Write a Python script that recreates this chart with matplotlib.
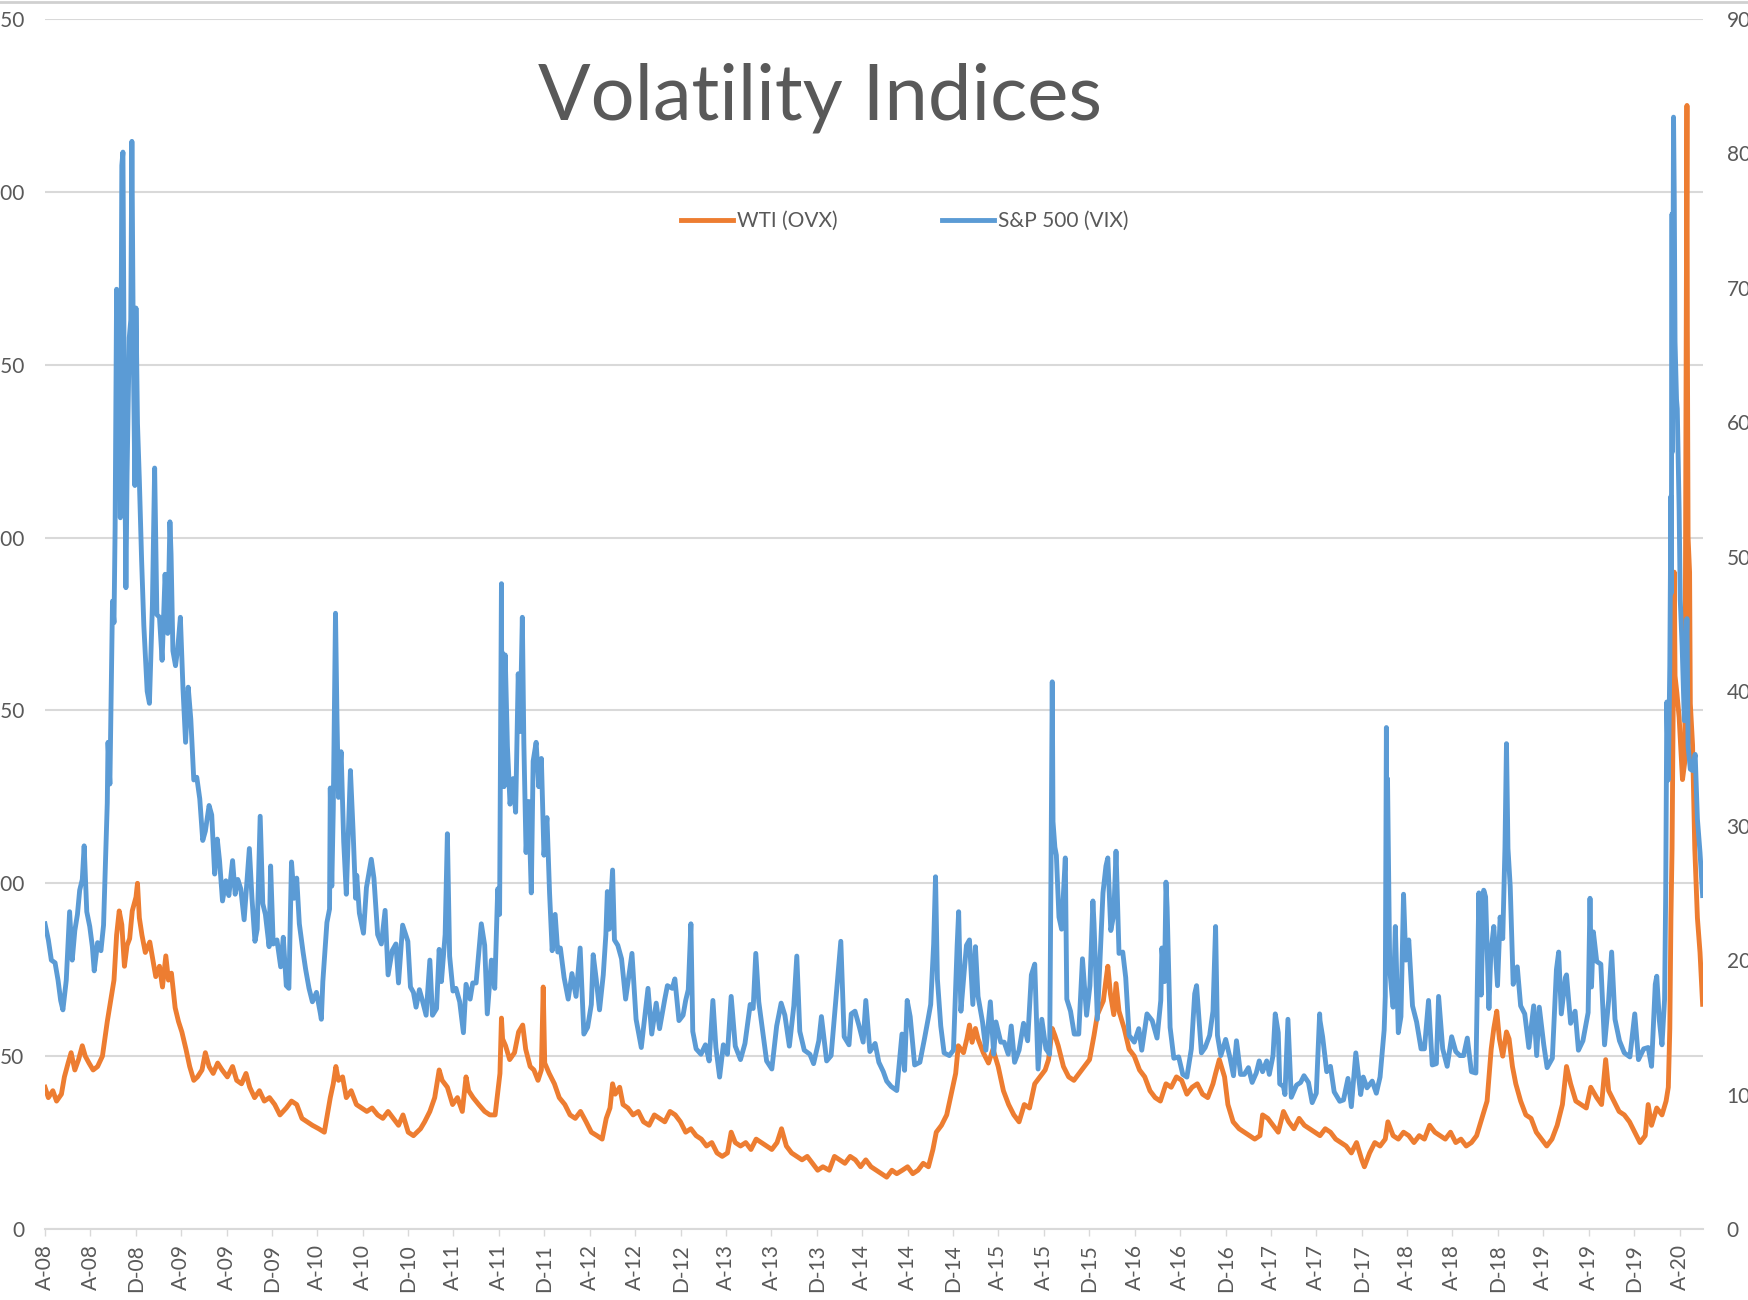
import matplotlib
matplotlib.use("Agg")
import matplotlib.pyplot as plt
from matplotlib.lines import Line2D
import pandas as pd

plt.rcParams['font.family'] = ['Lato', 'DejaVu Sans']

# ---------------- data ----------------
vix_dates = [
 "2008-04-01","2008-04-10","2008-04-18","2008-04-28","2008-05-06","2008-05-13","2008-05-19","2008-05-28",
 "2008-06-06","2008-06-13","2008-06-20","2008-06-27","2008-07-03","2008-07-10","2008-07-15","2008-07-22",
 "2008-07-30","2008-08-06","2008-08-11","2008-08-20","2008-08-29","2008-09-05","2008-09-15","2008-09-17",
 "2008-09-22","2008-09-29","2008-10-03","2008-10-06","2008-10-10","2008-10-14","2008-10-16","2008-10-20",
 "2008-10-24","2008-10-27","2008-10-31","2008-11-04","2008-11-07","2008-11-13","2008-11-17","2008-11-20",
 "2008-11-24","2008-11-28","2008-12-01","2008-12-05","2008-12-10","2008-12-16","2008-12-22","2008-12-31",
 "2009-01-06","2009-01-14","2009-01-20","2009-01-26","2009-02-02","2009-02-09","2009-02-17","2009-02-24",
 "2009-03-02","2009-03-05","2009-03-10","2009-03-17","2009-03-23","2009-03-30","2009-04-06","2009-04-13",
 "2009-04-20","2009-04-27","2009-05-05","2009-05-13","2009-05-21","2009-05-29","2009-06-05","2009-06-15",
 "2009-06-22","2009-06-30","2009-07-07","2009-07-13","2009-07-21","2009-07-30","2009-08-07","2009-08-17",
 "2009-08-24","2009-08-31","2009-09-08","2009-09-17","2009-09-24","2009-10-01","2009-10-08","2009-10-16",
 "2009-10-22","2009-10-30","2009-11-06","2009-11-13","2009-11-23","2009-11-27","2009-12-04","2009-12-14",
 "2009-12-24","2009-12-31","2010-01-08","2010-01-15","2010-01-22","2010-01-29","2010-02-05","2010-02-12",
 "2010-02-22","2010-03-01","2010-03-10","2010-03-19","2010-03-30","2010-04-09","2010-04-12","2010-04-16",
 "2010-04-27","2010-05-04","2010-05-06","2010-05-10","2010-05-14","2010-05-20","2010-05-24","2010-05-28",
 "2010-06-04","2010-06-11","2010-06-18","2010-06-29","2010-07-06","2010-07-13","2010-07-16","2010-07-23",
 "2010-08-03","2010-08-11","2010-08-24","2010-08-31","2010-09-10","2010-09-20","2010-09-30","2010-10-08",
 "2010-10-19","2010-10-29","2010-11-05","2010-11-16","2010-11-30","2010-12-07","2010-12-15","2010-12-22",
 "2010-12-31","2011-01-07","2011-01-18","2011-01-28","2011-02-04","2011-02-15","2011-02-22","2011-02-28",
 "2011-03-10","2011-03-16","2011-03-22","2011-03-31","2011-04-08","2011-04-18","2011-04-28","2011-05-05",
 "2011-05-16","2011-05-23","2011-06-01","2011-06-15","2011-06-24","2011-07-01","2011-07-12","2011-07-21",
 "2011-07-29","2011-08-03","2011-08-08","2011-08-09","2011-08-10","2011-08-15","2011-08-18","2011-08-24",
 "2011-08-31","2011-09-08","2011-09-15","2011-09-22","2011-09-27","2011-10-03","2011-10-07","2011-10-13",
 "2011-10-20","2011-10-27","2011-11-01","2011-11-09","2011-11-16","2011-11-23","2011-11-30","2011-12-08",
 "2011-12-15","2011-12-22","2011-12-30","2012-01-06","2012-01-13","2012-01-23","2012-02-03","2012-02-13",
 "2012-02-24","2012-03-06","2012-03-16","2012-03-26","2012-04-05","2012-04-10","2012-04-18","2012-04-27",
 "2012-05-07","2012-05-14","2012-05-18","2012-05-23","2012-06-01","2012-06-06","2012-06-15","2012-06-25",
 "2012-07-06","2012-07-12","2012-07-23","2012-08-03","2012-08-17","2012-08-24","2012-09-04","2012-09-14",
 "2012-09-26","2012-10-05","2012-10-19","2012-10-26","2012-11-08","2012-11-15","2012-11-26","2012-12-07",
 "2012-12-14","2012-12-21","2012-12-28","2013-01-02","2013-01-11","2013-01-24","2013-02-05","2013-02-15",
 "2013-02-25","2013-03-05","2013-03-15","2013-03-25","2013-04-05","2013-04-15","2013-04-26","2013-05-10",
 "2013-05-22","2013-06-05","2013-06-13","2013-06-20","2013-06-28","2013-07-08","2013-07-19","2013-08-02",
 "2013-08-15","2013-08-27","2013-09-06","2013-09-18","2013-09-30","2013-10-08","2013-10-16","2013-10-28",
 "2013-11-12","2013-11-22","2013-12-06","2013-12-13","2013-12-27","2014-01-08","2014-01-24","2014-02-03",
 "2014-02-12","2014-02-25","2014-03-03","2014-03-13","2014-03-24","2014-04-04","2014-04-11","2014-04-22",
 "2014-05-06","2014-05-16","2014-05-28","2014-06-06","2014-06-18","2014-07-03","2014-07-17","2014-07-24",
 "2014-07-31","2014-08-08","2014-08-20","2014-09-03","2014-09-15","2014-09-25","2014-10-02","2014-10-10",
 "2014-10-15","2014-10-20","2014-10-29","2014-11-07","2014-11-21","2014-12-02","2014-12-12","2014-12-16",
 "2014-12-22","2014-12-31","2015-01-06","2015-01-14","2015-01-23","2015-01-30","2015-02-06","2015-02-18",
 "2015-02-27","2015-03-11","2015-03-20","2015-03-26","2015-04-08","2015-04-17","2015-04-28","2015-05-06",
 "2015-05-15","2015-05-27","2015-06-08","2015-06-19","2015-06-29","2015-07-08","2015-07-17","2015-07-27",
 "2015-08-07","2015-08-17","2015-08-21","2015-08-24","2015-08-26","2015-08-31","2015-09-04","2015-09-11",
 "2015-09-18","2015-09-28","2015-10-02","2015-10-12","2015-10-22","2015-11-03","2015-11-13","2015-11-24",
 "2015-12-03","2015-12-11","2015-12-14","2015-12-23","2016-01-07","2016-01-15","2016-01-20","2016-01-28",
 "2016-02-05","2016-02-11","2016-02-19","2016-02-29","2016-03-08","2016-03-17","2016-03-31","2016-04-12",
 "2016-04-20","2016-05-04","2016-05-18","2016-05-31","2016-06-10","2016-06-13","2016-06-20","2016-06-24",
 "2016-06-27","2016-07-05","2016-07-15","2016-07-28","2016-08-08","2016-08-19","2016-08-31","2016-09-09",
 "2016-09-14","2016-09-27","2016-10-07","2016-10-19","2016-10-28","2016-11-04","2016-11-09","2016-11-18",
 "2016-12-01","2016-12-13","2016-12-22","2016-12-30","2017-01-10","2017-01-20","2017-01-31","2017-02-10",
 "2017-02-21","2017-03-01","2017-03-10","2017-03-21","2017-03-28","2017-04-07","2017-04-13","2017-04-21",
 "2017-04-25","2017-05-05","2017-05-09","2017-05-17","2017-05-26","2017-06-09","2017-06-20","2017-06-29",
 "2017-07-11","2017-07-21","2017-08-01","2017-08-10","2017-08-11","2017-08-18","2017-08-29","2017-09-08",
 "2017-09-18","2017-10-03","2017-10-13","2017-10-25","2017-11-03","2017-11-15","2017-11-28","2017-12-05",
 "2017-12-15","2017-12-29","2018-01-09","2018-01-19","2018-01-30","2018-02-02","2018-02-05","2018-02-06",
 "2018-02-08","2018-02-14","2018-02-23","2018-03-01","2018-03-09","2018-03-16","2018-03-23","2018-03-29",
 "2018-04-06","2018-04-16","2018-04-27","2018-05-09","2018-05-18","2018-05-29","2018-06-08","2018-06-19",
 "2018-06-25","2018-07-06","2018-07-18","2018-07-30","2018-08-10","2018-08-21","2018-08-31","2018-09-10",
 "2018-09-21","2018-10-03","2018-10-11","2018-10-17","2018-10-24","2018-10-29","2018-11-07","2018-11-12",
 "2018-11-20","2018-11-30","2018-12-07","2018-12-14","2018-12-20","2018-12-24","2018-12-28","2019-01-03",
 "2019-01-11","2019-01-22","2019-01-31","2019-02-11","2019-02-22","2019-03-07","2019-03-15","2019-03-22",
 "2019-04-03","2019-04-12","2019-04-26","2019-05-07","2019-05-13","2019-05-20","2019-05-31","2019-06-03",
 "2019-06-14","2019-06-26","2019-07-05","2019-07-17","2019-07-31","2019-08-05","2019-08-09","2019-08-14",
 "2019-08-23","2019-09-03","2019-09-13","2019-09-24","2019-10-02","2019-10-11","2019-10-23","2019-11-05",
 "2019-11-20","2019-12-03","2019-12-13","2019-12-27","2020-01-08","2020-01-17","2020-01-27","2020-01-31",
 "2020-02-07","2020-02-14","2020-02-21","2020-02-24","2020-02-27","2020-03-02","2020-03-06","2020-03-09",
 "2020-03-10","2020-03-12","2020-03-13","2020-03-16","2020-03-18","2020-03-20","2020-03-24","2020-03-26",
 "2020-03-31","2020-04-03","2020-04-08","2020-04-14","2020-04-21","2020-04-24","2020-04-30","2020-05-06",
 "2020-05-13","2020-05-19","2020-05-26","2020-06-02",
]
vix_values = [
 22.7,21.5,20.0,19.8,18.5,17.0,16.3,18.5,
 23.6,20.0,22.2,23.4,25.2,26.0,28.5,23.6,
 22.5,21.0,19.2,21.3,20.7,22.6,31.7,36.2,
 33.1,46.7,45.1,52.1,69.9,55.1,67.6,52.9,
 79.1,80.1,59.9,47.7,56.1,66.3,67.6,80.9,
 64.7,55.3,68.5,59.9,55.7,49.8,44.9,40.0,
 39.1,46.4,56.6,45.7,45.5,42.3,48.7,44.3,
 52.6,50.2,43.0,41.9,43.2,45.5,40.2,36.2,
 40.3,37.9,33.4,33.6,32.0,28.9,29.6,31.5,
 30.8,26.4,29.0,27.4,24.4,25.9,24.8,27.4,
 24.9,26.0,25.3,23.0,25.6,28.3,24.6,21.4,
 22.3,30.7,24.2,23.4,21.0,27.0,21.2,21.5,
 19.5,21.7,18.1,17.9,27.3,24.6,26.1,22.7,
 20.6,19.3,17.9,16.9,17.6,16.1,15.6,18.4,
 22.8,23.8,32.8,25.5,31.2,45.8,37.9,32.1,
 35.5,28.8,24.9,34.1,29.7,24.6,26.3,23.5,
 22.0,25.4,27.5,26.1,21.9,21.2,23.7,18.9,
 20.7,21.2,18.3,22.6,21.4,18.0,17.6,16.5,
 17.8,17.1,15.9,20.0,15.9,16.4,20.8,18.4,
 21.9,29.4,20.3,17.7,17.9,16.9,14.6,18.2,
 17.1,18.3,18.3,22.7,21.1,16.0,20.0,17.9,
 25.3,23.4,48.0,35.1,42.9,32.9,42.7,35.9,
 31.6,33.5,31.0,41.3,37.0,45.5,36.2,28.0,
 31.8,25.0,34.8,36.2,32.9,35.0,27.8,30.6,
 25.0,20.7,23.4,20.6,20.9,18.7,17.1,19.0,
 17.3,20.9,14.5,15.0,16.7,20.4,18.6,16.3,
 18.9,21.9,25.1,22.3,26.7,21.5,21.1,20.1,
 17.1,18.3,20.5,15.6,13.5,15.2,17.9,14.5,
 16.8,14.9,17.1,18.1,17.9,18.6,15.5,15.9,
 17.0,17.8,22.7,14.7,13.4,13.0,13.7,12.5,
 17.0,13.5,11.3,13.7,13.0,17.3,13.6,12.6,
 13.8,16.7,16.4,20.5,16.9,14.8,12.5,11.9,
 15.1,16.8,15.9,13.6,16.6,20.3,14.7,13.3,
 13.0,12.3,14.0,15.8,12.5,12.9,18.1,21.4,
 14.3,13.7,16.0,16.2,15.1,13.9,17.0,13.2,
 13.8,12.4,11.7,11.0,10.6,10.3,14.5,11.8,
 17.0,15.8,12.2,12.4,14.1,15.6,16.7,21.2,
 26.2,18.6,15.1,13.1,12.9,13.3,21.1,23.6,
 16.2,19.2,21.1,21.5,16.7,21.0,17.3,15.4,
 13.3,16.9,13.0,15.4,13.9,13.9,13.0,15.1,
 12.4,13.3,15.3,14.0,18.9,19.7,11.9,15.6,
 13.4,13.0,28.0,40.7,30.3,28.4,27.8,23.2,
 22.3,27.6,17.1,16.2,14.5,14.5,20.1,15.9,
 18.1,24.4,22.7,15.6,25.0,27.0,27.6,22.2,
 23.4,28.1,20.5,20.6,18.7,14.4,13.9,14.9,
 13.3,16.0,15.5,14.2,17.0,20.9,18.4,25.8,
 23.9,15.0,12.7,12.8,11.5,11.3,13.4,17.5,
 18.1,13.1,13.5,14.4,16.2,22.5,14.4,12.9,
 14.1,12.7,11.4,14.0,11.5,11.5,12.0,10.9,
 11.6,12.5,11.7,12.5,11.5,12.9,16.0,14.6,
 10.8,10.6,10.0,15.6,9.8,10.7,10.9,11.4,
 10.9,9.4,10.1,16.0,15.5,14.3,11.7,12.1,
 10.2,9.5,9.6,11.2,9.1,13.1,10.0,11.3,
 10.5,11.0,10.1,11.3,14.8,17.3,37.3,30.0,
 33.5,19.3,16.5,22.5,14.6,15.8,24.9,20.0,
 21.5,16.6,15.4,13.4,13.4,17.0,12.2,12.3,
 17.3,13.4,12.1,14.3,13.2,12.9,12.9,14.2,
 11.7,11.6,25.0,17.4,25.2,24.7,16.4,20.5,
 22.5,18.1,23.2,21.6,28.4,36.1,28.3,25.5,
 18.2,19.5,16.6,16.0,13.5,16.6,12.9,16.5,
 13.7,12.0,12.7,19.3,20.6,16.0,18.7,18.9,
 15.3,16.2,13.3,14.0,16.1,24.6,18.0,22.1,
 19.9,19.7,13.7,17.0,20.6,15.6,14.0,13.1,
 12.8,16.0,12.6,13.4,13.5,12.1,18.2,18.8,
 15.5,13.7,17.1,25.0,39.2,33.4,41.9,54.5,
 47.3,75.5,57.8,82.7,76.5,66.0,61.7,61.0,
 53.5,46.8,43.4,37.8,45.4,35.9,34.2,34.1,
 35.3,30.5,28.0,24.8,
]

ovx_dates = [
 "2008-04-01","2008-04-10","2008-04-22","2008-05-02","2008-05-15","2008-05-23","2008-06-02","2008-06-10",
 "2008-06-20","2008-06-30","2008-07-10","2008-07-18","2008-07-28","2008-08-08","2008-08-20","2008-09-02",
 "2008-09-15","2008-09-24","2008-10-03","2008-10-10","2008-10-17","2008-10-24","2008-10-31","2008-11-07",
 "2008-11-14","2008-11-21","2008-12-01","2008-12-05","2008-12-10","2008-12-17","2008-12-26","2009-01-07",
 "2009-01-15","2009-01-23","2009-02-02","2009-02-10","2009-02-19","2009-02-26","2009-03-06","2009-03-16",
 "2009-03-25","2009-04-03","2009-04-14","2009-04-24","2009-05-05","2009-05-15","2009-05-27","2009-06-05",
 "2009-06-15","2009-06-26","2009-07-08","2009-07-20","2009-08-03","2009-08-17","2009-08-28","2009-09-10",
 "2009-09-22","2009-10-02","2009-10-15","2009-10-28","2009-11-10","2009-11-24","2009-12-08","2009-12-22",
 "2010-01-08","2010-01-22","2010-02-05","2010-02-19","2010-03-05","2010-03-19","2010-04-05","2010-04-20",
 "2010-05-06","2010-05-14","2010-05-21","2010-05-28","2010-06-08","2010-06-18","2010-07-01","2010-07-15",
 "2010-07-29","2010-08-12","2010-08-26","2010-09-10","2010-09-24","2010-10-08","2010-10-22","2010-11-05",
 "2010-11-17","2010-12-01","2010-12-15","2011-01-03","2011-01-14","2011-01-28","2011-02-10","2011-02-22",
 "2011-03-02","2011-03-16","2011-03-30","2011-04-12","2011-04-25","2011-05-05","2011-05-12","2011-05-24",
 "2011-06-08","2011-06-24","2011-07-08","2011-07-22","2011-08-04","2011-08-08","2011-08-11","2011-08-19",
 "2011-08-30","2011-09-12","2011-09-23","2011-10-04","2011-10-12","2011-10-24","2011-11-03","2011-11-14",
 "2011-11-23","2011-11-28","2011-12-02","2011-12-14","2011-12-28","2012-01-10","2012-01-25","2012-02-08",
 "2012-02-22","2012-03-07","2012-03-22","2012-04-05","2012-04-20","2012-05-04","2012-05-15","2012-05-25",
 "2012-06-01","2012-06-08","2012-06-20","2012-06-29","2012-07-12","2012-07-26","2012-08-09","2012-08-23",
 "2012-09-07","2012-09-21","2012-10-05","2012-10-19","2012-11-02","2012-11-16","2012-11-30","2012-12-14",
 "2012-12-28","2013-01-11","2013-01-25","2013-02-08","2013-02-22","2013-03-08","2013-03-22","2013-04-05",
 "2013-04-15","2013-04-26","2013-05-10","2013-05-24","2013-06-07","2013-06-21","2013-07-05","2013-07-19",
 "2013-08-02","2013-08-16","2013-08-28","2013-09-10","2013-09-24","2013-10-08","2013-10-22","2013-11-05",
 "2013-11-19","2013-12-03","2013-12-17","2014-01-03","2014-01-17","2014-01-31","2014-02-14","2014-02-28",
 "2014-03-14","2014-03-28","2014-04-11","2014-04-25","2014-05-09","2014-05-23","2014-06-06","2014-06-20",
 "2014-07-03","2014-07-18","2014-08-01","2014-08-15","2014-08-29","2014-09-12","2014-09-26","2014-10-08",
 "2014-10-17","2014-10-31","2014-11-14","2014-11-28","2014-12-08","2014-12-15","2014-12-29","2015-01-07",
 "2015-01-14","2015-01-21","2015-01-30","2015-02-06","2015-02-20","2015-03-06","2015-03-18","2015-04-01",
 "2015-04-15","2015-04-29","2015-05-13","2015-05-27","2015-06-10","2015-06-24","2015-07-08","2015-07-22",
 "2015-08-05","2015-08-14","2015-08-24","2015-08-31","2015-09-09","2015-09-23","2015-10-07","2015-10-21",
 "2015-11-04","2015-11-18","2015-12-02","2015-12-14","2015-12-23","2016-01-08","2016-01-15","2016-01-20",
 "2016-01-27","2016-02-05","2016-02-11","2016-02-19","2016-03-04","2016-03-17","2016-03-31","2016-04-14",
 "2016-04-28","2016-05-12","2016-05-26","2016-06-09","2016-06-24","2016-07-08","2016-07-22","2016-08-05",
 "2016-08-19","2016-09-02","2016-09-16","2016-09-30","2016-10-14","2016-10-28","2016-11-04","2016-11-14",
 "2016-11-28","2016-12-07","2016-12-21","2017-01-06","2017-01-20","2017-02-03","2017-02-17","2017-03-03",
 "2017-03-10","2017-03-24","2017-04-07","2017-04-21","2017-05-05","2017-05-19","2017-06-02","2017-06-16",
 "2017-06-30","2017-07-14","2017-07-28","2017-08-11","2017-08-25","2017-09-08","2017-09-22","2017-10-06",
 "2017-10-20","2017-11-03","2017-11-17","2017-12-01","2017-12-08","2017-12-22","2018-01-05","2018-01-19",
 "2018-02-02","2018-02-09","2018-02-23","2018-03-09","2018-03-23","2018-04-06","2018-04-20","2018-05-04",
 "2018-05-18","2018-06-01","2018-06-15","2018-06-29","2018-07-13","2018-07-27","2018-08-10","2018-08-24",
 "2018-09-07","2018-09-21","2018-10-05","2018-10-19","2018-11-02","2018-11-13","2018-11-20","2018-11-28",
 "2018-12-05","2018-12-14","2018-12-24","2018-12-31","2019-01-09","2019-01-18","2019-01-31","2019-02-14",
 "2019-02-28","2019-03-14","2019-03-28","2019-04-11","2019-04-25","2019-05-09","2019-05-23","2019-06-03",
 "2019-06-14","2019-06-28","2019-07-12","2019-07-26","2019-08-07","2019-08-23","2019-09-05","2019-09-16",
 "2019-09-24","2019-10-08","2019-10-22","2019-11-05","2019-11-19","2019-12-03","2019-12-17","2019-12-31",
 "2020-01-08","2020-01-17","2020-01-31","2020-02-14","2020-02-25","2020-03-02","2020-03-06","2020-03-09",
 "2020-03-12","2020-03-18","2020-03-20","2020-03-25","2020-03-31","2020-04-03","2020-04-09","2020-04-15",
 "2020-04-17","2020-04-21","2020-04-22","2020-04-24","2020-04-28","2020-04-30","2020-05-06","2020-05-12",
 "2020-05-19","2020-05-26","2020-06-02",
]
ovx_values = [
 41,38,40,37,39,44,48,51,
 46,49,53,50,48,46,47,50,
 60,66,72,85,92,88,76,82,
 84,92,96,100,90,85,80,83,
 78,73,76,70,79,72,74,64,
 60,57,52,47,43,44,46,51,
 47,45,48,46,44,47,43,42,
 45,41,38,40,37,38,36,33,
 35,37,36,32,31,30,29,28,
 38,42,47,43,44,38,40,36,
 35,34,35,33,32,34,32,30,
 33,28,27,29,31,34,38,46,
 43,41,36,38,34,44,40,38,
 36,34,33,33,45,61,55,53,
 49,51,57,59,52,47,46,43,
 46,70,48,45,42,38,36,33,
 32,34,31,28,27,26,32,35,
 42,39,41,36,35,33,34,31,
 30,33,32,31,34,33,31,28,
 29,27,26,24,25,22,21,22,
 28,25,24,25,23,26,25,24,
 23,25,29,24,22,21,20,21,
 19,17,18,17,21,20,19,21,
 20,18,20,18,17,16,15,17,
 16,17,18,16,17,19,18,23,
 28,30,33,40,45,53,51,55,
 59,54,58,55,51,48,52,47,
 40,36,33,31,36,35,42,44,
 46,49,58,56,53,47,44,43,
 45,47,49,56,62,66,72,76,
 68,62,71,63,58,52,50,46,
 44,40,38,37,42,41,44,43,
 39,41,42,39,38,42,45,49,
 44,36,31,29,28,27,26,27,
 33,32,30,28,34,31,29,32,
 30,29,28,27,29,28,26,25,
 24,22,25,20,18,22,25,24,
 26,31,27,26,28,27,25,27,
 26,30,28,27,26,28,25,26,
 24,25,27,32,37,52,58,63,
 55,50,57,55,47,42,37,33,
 32,28,26,24,26,30,36,47,
 42,37,36,35,41,38,36,49,
 40,37,34,33,31,28,25,27,
 36,30,35,33,37,41,58,90,
 110,190,160,155,148,142,130,135,
 190,325,260,200,190,152,140,110,
 90,80,65,
]

left_ticks = [0, 50, 100, 150, 200, 250, 300, 350]
right_ticks = [0, 10, 20, 30, 40, 50, 60, 70, 80, 90]
x_tick_dates = pd.date_range("2008-04-01", "2020-04-01", freq="4MS")
x_tick_labels = [d.strftime("%b")[0] + "-" + d.strftime("%y") for d in x_tick_dates]

title = "Volatility Indices"
series_names = ["WTI (OVX)", "S&P 500 (VIX)"]

# ---------------- style ----------------
ORANGE = "#ED7D31"
BLUE = "#5B9BD5"
TXT = "#595959"
GRID = "#D9D9D9"

vd = pd.to_datetime(vix_dates)
od = pd.to_datetime(ovx_dates)

fig = plt.figure(figsize=(17.49, 13.0), dpi=100)
ax = fig.add_axes([45/1749, 1 - 1229/1300, (1703-45)/1749, (1229-19)/1300])
ax2 = ax.twinx()

ax.plot(od, ovx_values, color=ORANGE, lw=3.5, solid_joinstyle='round', zorder=3)
ax2.plot(vd, vix_values, color=BLUE, lw=3.5, solid_joinstyle='round', zorder=3)

ax.set_xlim(pd.Timestamp("2008-04-01"), pd.Timestamp("2020-06-03"))
ax.set_ylim(0, 350)
ax2.set_ylim(0, 90)
ax.set_yticks(left_ticks)
ax2.set_yticks(right_ticks)
ax.set_xticks(x_tick_dates)
ax.set_xticklabels(x_tick_labels, rotation=90, fontsize=15, color=TXT)

ax.grid(axis='y', color=GRID, lw=1.5)
ax.set_axisbelow(True)
for a in (ax, ax2):
    for s in a.spines.values():
        s.set_visible(False)
ax.spines['bottom'].set_visible(True)
ax.spines['bottom'].set_color(GRID)
ax.spines['bottom'].set_linewidth(1.5)

ax.tick_params(axis='x', length=5, width=1, color=GRID, pad=6)
ax.tick_params(axis='y', length=0, labelsize=15, labelcolor=TXT, pad=15)
ax2.tick_params(axis='y', length=0, labelsize=15, labelcolor=TXT, pad=17)

fig.text(820/1749, 1 - 98/1300, title, ha='center', va='center', fontsize=56,
         color=TXT)

handles = [Line2D([], [], color=ORANGE, lw=3.5), Line2D([], [], color=BLUE, lw=3.5)]
fig.legend(handles, series_names, loc='center', bbox_to_anchor=(905/1749, 1 - 221/1300),
           ncol=2, frameon=False, fontsize=15, labelcolor=TXT, handlelength=2.5,
           handletextpad=0.2, columnspacing=5.0)

fig.add_artist(Line2D([0, 1], [1 - 2/1300, 1 - 2/1300], transform=fig.transFigure,
                      color="#D0D0D0", lw=2))

fig.savefig("out.png", dpi=100, facecolor='white')
